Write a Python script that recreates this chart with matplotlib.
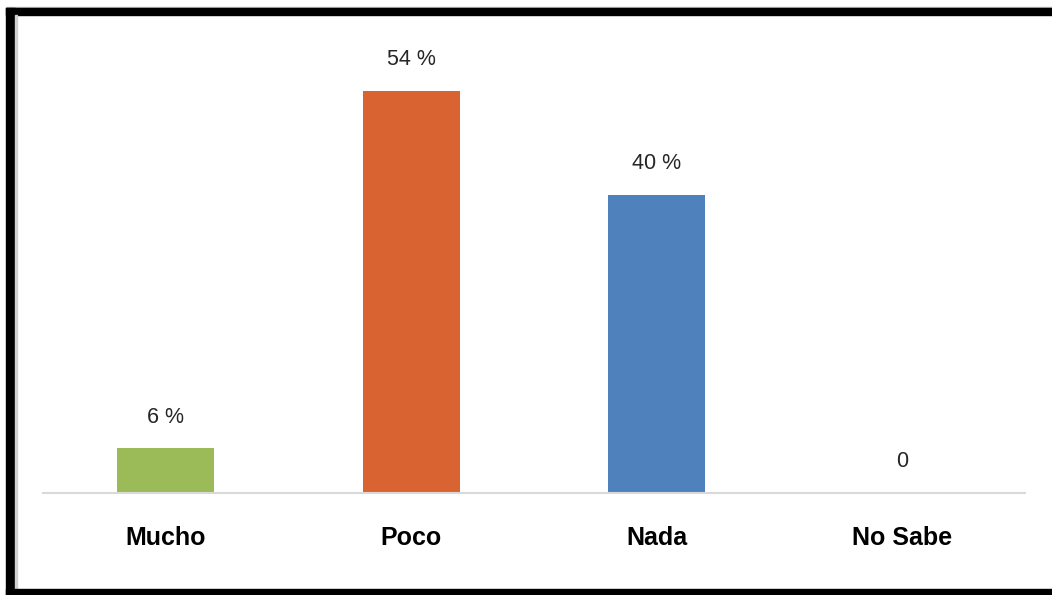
import numpy as np
import matplotlib.pyplot as plt
from matplotlib.patches import Rectangle

categories = ['Mucho', 'Poco', 'Nada', 'No Sabe']
values = [6, 54, 40, 0]
value_labels = ['6 %', '54 %', '40 %', '0']
colors = ['#9BBB59', '#DA6332', '#4F81BD', '#4F81BD']

W, H = 1052, 595
fig = plt.figure(figsize=(W/100, H/100), dpi=100)
fig.patch.set_facecolor('white')

# axes placed in pixel terms
x0, x1 = 43, 1025
y_base, y_top = 493, 15
ax = fig.add_axes([x0/W, (H - y_base)/H, (x1 - x0)/W, (y_base - y_top)/H])

x = np.arange(len(categories))
ax.bar(x, values, width=0.395, color=colors)
ax.set_xlim(-0.5, 3.5)
ax.set_ylim(0, (y_base - y_top)/7.45)

for xi, v, lab in zip(x, values, value_labels):
    ax.annotate(lab, (xi, v), xytext=(0, 22.5), textcoords='offset points',
                ha='center', va='center', fontsize=15.5, color='#262626',
                family=['Liberation Sans', 'DejaVu Sans'])

ax.set_xticks(x)
ax.set_xticklabels(categories, fontsize=18, fontweight='bold',
                   family=['Liberation Sans', 'DejaVu Sans'])
ax.tick_params(axis='x', length=0, pad=24)
ax.set_yticks([])
for s in ['top', 'right', 'left']:
    ax.spines[s].set_visible(False)
ax.spines['bottom'].set_color('#D9D9D9')
ax.spines['bottom'].set_linewidth(1.5)

# black picture frame (left, top, bottom)
def px_rect(left, top, w, h, color):
    fig.patches.append(Rectangle((left/W, (H - top - h)/H), w/W, h/H,
                                 transform=fig.transFigure, color=color,
                                 zorder=10))

px_rect(6, 7, 1052, 2, '#C0C0C0')
px_rect(6, 8, 1052, 7, 'black')
px_rect(6, 8, 9, 587, 'black')
px_rect(15, 15, 2, 575, '#D0D0D0')
px_rect(6, 589, 1052, 6, 'black')

fig.savefig('out.png', dpi=100)
